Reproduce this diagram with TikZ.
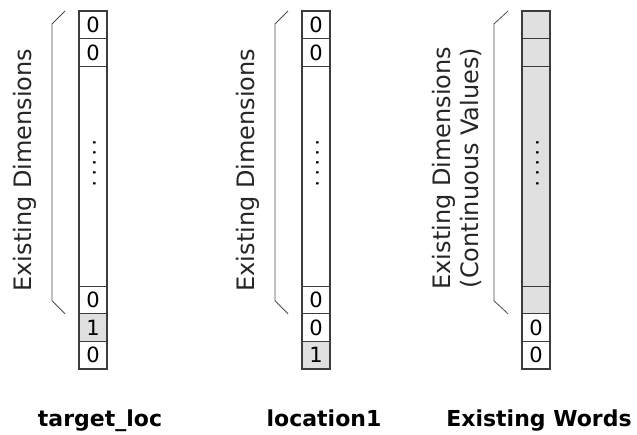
\documentclass[tikz,border=0pt]{standalone}
\usepackage{fontspec}
\setmainfont{DejaVu Sans}
\usetikzlibrary{positioning}
\definecolor{cellgray}{HTML}{E0E0E0}
\definecolor{edgegray}{HTML}{3C3C3C}

\begin{document}
\begin{tikzpicture}[x=1pt,y=-1pt,font=\fontsize{21}{27}\selectfont,node distance=0pt,
  cell/.style={draw=edgegray,line width=1.1pt,minimum width=28pt,minimum height=27.6pt,inner sep=0pt,outer sep=0pt},
  tall/.style={cell,minimum height=220pt},
  on/.style={fill=cellgray},
  brace/.style={draw=black!70,line width=0.8pt},
  dims/.style={rotate=90,align=center,text=black!85,font=\fontsize{24}{28}\selectfont},
  dots/.style={rotate=-90,anchor=base,inner sep=0pt},
  title/.style={anchor=base,font=\fontsize{22}{26}\selectfont\bfseries}]
\useasboundingbox (0,0) rectangle (637,434);

% target_loc
\node[cell,anchor=north west] (t1) at (79,11) {0};
\node[cell,below=of t1] (t2) {0};
\node[tall,below=of t2] (t3) {};
\node[cell,below=of t3] (t4) {0};
\node[cell,on,below=of t4] (t5) {1};
\node[cell,below=of t5] (t6) {0};
\node[dots] (tdots) at (t3.center |- 0,163) {.\,.\,.\,.\,.};
\draw[brace] ([xshift=-14pt]t1.north west) -- ([xshift=-27pt,yshift=-13pt]t1.north west)
  -- ([xshift=-27pt,yshift=13pt]t4.south west) -- ([xshift=-14pt]t4.south west);
\node[dims] (tdim) at (25,170) {Existing Dimensions};
\node[title] (tname) at (100,426) {target\_loc};

% location1
\node[cell,anchor=north west] (l1) at (302,11) {0};
\node[cell,below=of l1] (l2) {0};
\node[tall,below=of l2] (l3) {};
\node[cell,below=of l3] (l4) {0};
\node[cell,below=of l4] (l5) {0};
\node[cell,on,below=of l5] (l6) {1};
\node[dots] (ldots) at (l3.center |- 0,163) {.\,.\,.\,.\,.};
\draw[brace] ([xshift=-14pt]l1.north west) -- ([xshift=-27pt,yshift=-13pt]l1.north west)
  -- ([xshift=-27pt,yshift=13pt]l4.south west) -- ([xshift=-14pt]l4.south west);
\node[dims] (ldim) at (248,170) {Existing Dimensions};
\node[title] (lname) at (324,426) {location1};

% existing words
\node[cell,on,anchor=north west] (w1) at (522,11) {};
\node[cell,on,below=of w1] (w2) {};
\node[tall,on,below=of w2] (w3) {};
\node[cell,on,below=of w3] (w4) {};
\node[cell,below=of w4] (w5) {0};
\node[cell,below=of w5] (w6) {0};
\node[dots] (wdots) at (w3.center |- 0,163) {.\,.\,.\,.\,.};
\draw[brace] ([xshift=-14pt]w1.north west) -- ([xshift=-28pt,yshift=-13pt]w1.north west)
  -- ([xshift=-28pt,yshift=13pt]w4.south west) -- ([xshift=-14pt]w4.south west);
\node[dims] (wdim) at (457,168) {Existing Dimensions\\(Continuous Values)};
\node[title] (wname) at (539,426) {Existing Words};
\end{tikzpicture}
\end{document}
